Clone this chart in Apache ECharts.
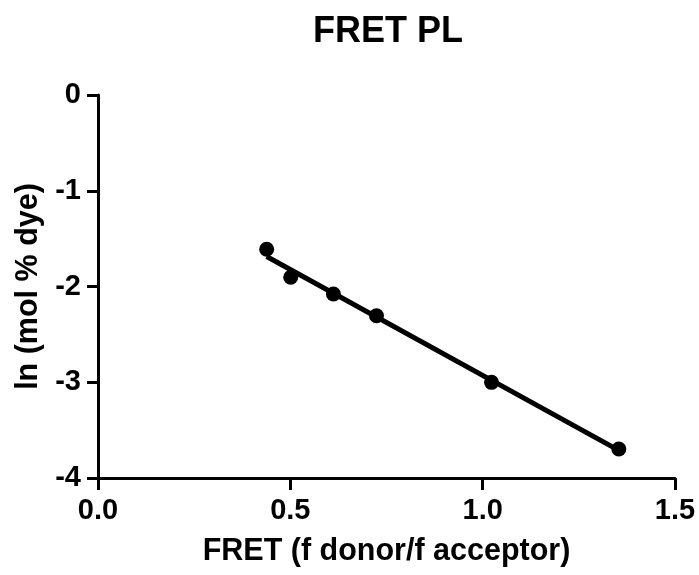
<!DOCTYPE html>
<html>
<head>
<meta charset="utf-8">
<script src="https://cdn.jsdelivr.net/npm/echarts@6/dist/echarts.min.js"></script>
<style>html,body{margin:0;padding:0;background:#fff}#c{width:699px;height:575px}</style>
</head>
<body>
<div id="c"></div>
<script>
const pointX = [0.4385, 0.501, 0.612, 0.724, 1.023, 1.354];
const pointY = [-1.611, -1.904, -2.078, -2.305, -3.001, -3.697];
const fitX = [0.4385, 1.354];
const fitY = [-1.687, -3.712];
const xTicks = [0, 0.5, 1.0, 1.5];
const yTicks = [-4, -3, -2, -1, 0];

const font = 'Liberation Sans, Arial, sans-serif';
const chart = echarts.init(document.getElementById('c'));
chart.setOption({
  animation: false,
  title: {
    text: 'FRET PL', left: 383, top: 9, textAlign: 'center',
    textStyle: {fontFamily: font, fontWeight: 'bold', fontSize: 36, color: '#000'}
  },
  grid: {left: 98, right: 24, top: 95, bottom: 97},
  xAxis: {
    type: 'value', min: 0, max: 1.5, interval: 0.5,
    name: 'FRET (f donor/f acceptor)', nameLocation: 'middle', nameGap: 58,
    nameTextStyle: {fontFamily: font, fontWeight: 'bold', fontSize: 30.5, color: '#000'},
    axisLine: {onZero: false, lineStyle: {color: '#000', width: 3}},
    axisTick: {length: 12, lineStyle: {color: '#000', width: 3}},
    axisLabel: {margin: 18, fontFamily: font, fontWeight: 'bold', fontSize: 29, color: '#000',
      formatter: v => v.toFixed(1)},
    splitLine: {show: false}
  },
  yAxis: {
    type: 'value', min: -4, max: 0, interval: 1,
    name: 'ln (mol % dye)', nameLocation: 'middle', nameGap: 54,
    nameTextStyle: {fontFamily: font, fontWeight: 'bold', fontSize: 30.5, color: '#000'},
    axisLine: {show: true, onZero: false, lineStyle: {color: '#000', width: 3}},
    axisTick: {show: true, length: 11, lineStyle: {color: '#000', width: 3}},
    axisLabel: {margin: 17, fontFamily: font, fontWeight: 'bold', fontSize: 29, color: '#000'},
    splitLine: {show: false}
  },
  series: [
    {
      type: 'line', data: fitX.map((x, i) => [x, fitY[i]]),
      showSymbol: false, symbol: 'none',
      lineStyle: {color: '#000', width: 5}, z: 2
    },
    {
      type: 'scatter', data: pointX.map((x, i) => [x, pointY[i]]),
      symbol: 'circle', symbolSize: 15,
      itemStyle: {color: '#000', opacity: 1}, z: 3
    }
  ]
});
</script>
</body>
</html>
